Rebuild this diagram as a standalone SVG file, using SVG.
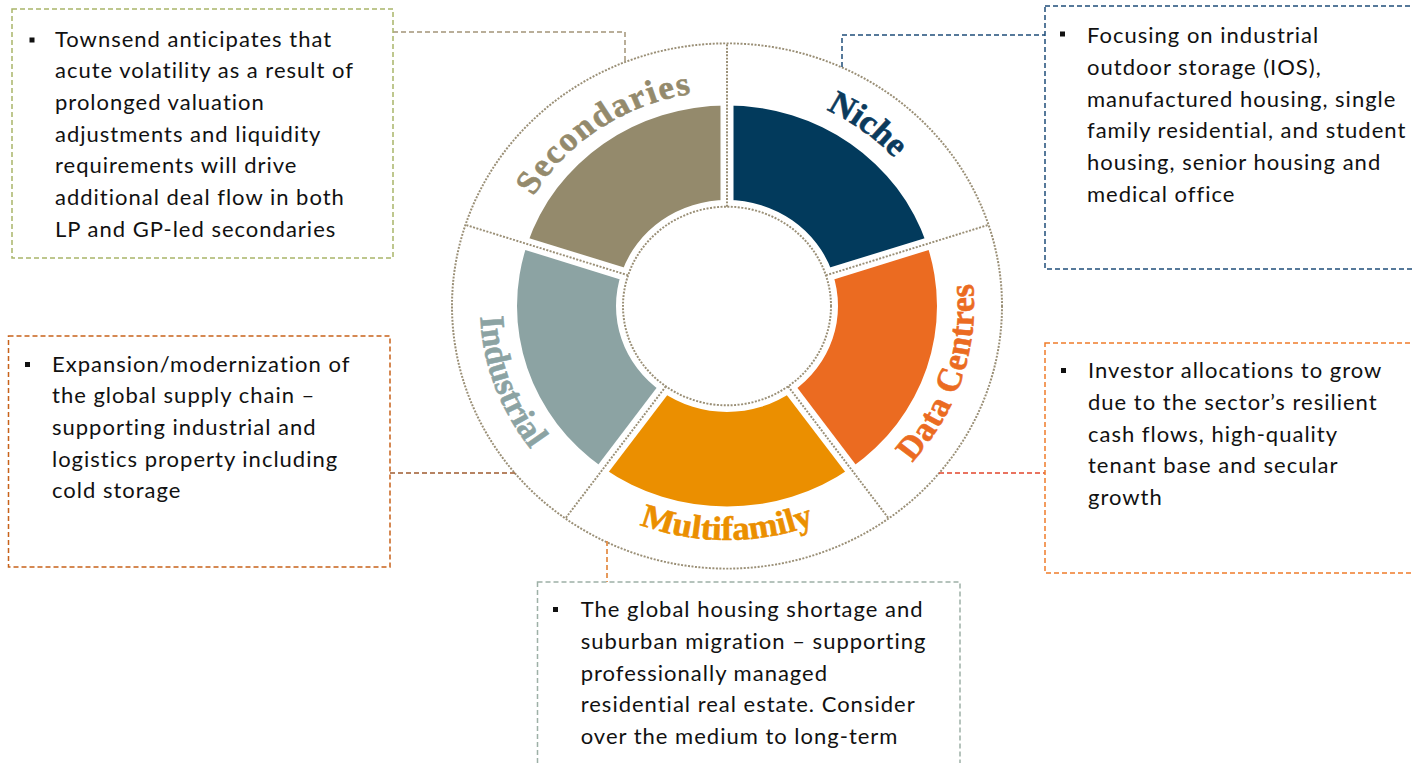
<svg xmlns="http://www.w3.org/2000/svg" width="1412" height="763" viewBox="0 0 1412 763">
  <defs>
    <style>
      .box { fill: none; stroke-width: 1.5; stroke-dasharray: 5 3; }
      .conn { fill: none; stroke-width: 1.5; stroke-dasharray: 5 3; }
      .dot { fill: none; stroke: #9A8F76; stroke-width: 2; stroke-dasharray: 2 1.5; }
      .gap { stroke: #ffffff; stroke-width: 13; }
      .body { font-family: Lato, "Liberation Sans", sans-serif; font-size: 22px; letter-spacing: 1px; fill: #111111; }
      .bullet { fill: #111111; }
      .lbl { font-family: "Liberation Serif", "DejaVu Serif", serif; font-weight: bold; font-size: 35px; stroke-width: 0.6; }
    </style>
    <!-- label baselines: upper arcs run clockwise, lower arcs counter-clockwise -->
    <path id="arc-secondaries" d="M -224.5 15.7 A 225 225 0 0 1 98.6 -202.2"/>
    <path id="arc-niche" d="M -90.9 -209.1 A 228 228 0 0 1 226.5 25.8"/>
    <path id="arc-datacentres" d="M 51.4 241.6 A 247 247 0 0 0 183.5 -165.3"/>
    <path id="arc-multifamily" d="M -212.2 122.5 A 245 245 0 0 0 212.2 122.5"/>
    <path id="arc-industrial" d="M -189.2 -158.8 A 247 247 0 0 0 -42.9 243.2"/>
  </defs>

  <rect width="1412" height="763" fill="#ffffff"/>

  <!-- sector wheel -->
  <g id="wheel" transform="translate(727 306) scale(1 0.955)">
    <g id="seg-niche">
      <path d="M 0 -210 A 210 210 0 0 1 199.72 -64.89 L 105.57 -34.30 A 111 111 0 0 0 0 -111 Z" fill="#023A5C"/>
      <text class="lbl" fill="#0B3A5C" stroke="#0B3A5C"><textPath href="#arc-niche" startOffset="50%" text-anchor="middle">Niche</textPath></text>
    </g>
    <g id="seg-datacentres">
      <path d="M 199.72 -64.89 A 210 210 0 0 1 123.44 169.89 L 65.24 89.80 A 111 111 0 0 0 105.57 -34.30 Z" fill="#EB6B21"/>
      <text class="lbl" fill="#EB6B21" stroke="#EB6B21" letter-spacing="0.5"><textPath href="#arc-datacentres" startOffset="50%" text-anchor="middle">Data Centres</textPath></text>
    </g>
    <g id="seg-multifamily">
      <path d="M 123.44 169.89 A 210 210 0 0 1 -123.44 169.89 L -65.24 89.80 A 111 111 0 0 0 65.24 89.80 Z" fill="#EB8F00"/>
      <text class="lbl" fill="#EB8F00" stroke="#EB8F00"><textPath href="#arc-multifamily" startOffset="50%" text-anchor="middle">Multifamily</textPath></text>
    </g>
    <g id="seg-industrial">
      <path d="M -123.44 169.89 A 210 210 0 0 1 -199.72 -64.89 L -105.57 -34.30 A 111 111 0 0 0 -65.24 89.80 Z" fill="#8CA3A3"/>
      <text class="lbl" fill="#8CA3A3" stroke="#8CA3A3"><textPath href="#arc-industrial" startOffset="50%" text-anchor="middle">Industrial</textPath></text>
    </g>
    <g id="seg-secondaries">
      <path d="M -199.72 -64.89 A 210 210 0 0 1 0 -210 L 0 -111 A 111 111 0 0 0 -105.57 -34.30 Z" fill="#948A6C"/>
      <text class="lbl" fill="#948A6C" stroke="#948A6C" font-size="36" letter-spacing="1.8"><textPath href="#arc-secondaries" startOffset="50%" text-anchor="middle">Secondaries</textPath></text>
    </g>

    <g id="ring-lines">
      <!-- white channels between sectors -->
      <line class="gap" x1="0" y1="-100" x2="0" y2="-216"/>
      <line class="gap" x1="95.1" y1="-30.9" x2="205.4" y2="-66.7"/>
      <line class="gap" x1="58.8" y1="80.9" x2="127.0" y2="174.7"/>
      <line class="gap" x1="-58.8" y1="80.9" x2="-127.0" y2="174.7"/>
      <line class="gap" x1="-95.1" y1="-30.9" x2="-205.4" y2="-66.7"/>
      <!-- dotted rims and spokes -->
      <circle class="dot" cx="0" cy="0" r="275"/>
      <circle class="dot" cx="0" cy="0" r="104"/>
      <line class="dot" x1="0" y1="-104" x2="0" y2="-275"/>
      <line class="dot" x1="98.91" y1="-32.14" x2="261.54" y2="-84.98"/>
      <line class="dot" x1="61.13" y1="84.14" x2="161.64" y2="222.48"/>
      <line class="dot" x1="-61.13" y1="84.14" x2="-161.64" y2="222.48"/>
      <line class="dot" x1="-98.91" y1="-32.14" x2="-261.54" y2="-84.98"/>
    </g>
  </g>

  <!-- leader lines from the wheel to the notes -->
  <g id="connectors">
    <polyline class="conn" stroke="#A39478" points="393,32 625,32 625,62"/>
    <polyline class="conn" stroke="#1F4E79" points="842,67 842,35 1045,35"/>
    <line class="conn" stroke="#9E5B2F" x1="390" y1="473" x2="517" y2="473"/>
    <line class="conn" stroke="#E2462C" x1="939" y1="473" x2="1045" y2="473"/>
    <line class="conn" stroke="#E07A26" x1="607" y1="541" x2="607" y2="582"/>
  </g>

  <g id="note-secondaries">
    <rect class="box" stroke="#A9B56A" x="12" y="9" width="381" height="249"/>
    <rect class="bullet" x="29.5" y="37.5" width="5" height="5"/>
    <text class="body">
      <tspan x="55" y="46.5">Townsend anticipates that</tspan>
      <tspan x="55" y="78.2">acute volatility as a result of</tspan>
      <tspan x="55" y="109.8">prolonged valuation</tspan>
      <tspan x="55" y="141.5">adjustments and liquidity</tspan>
      <tspan x="55" y="173.2">requirements will drive</tspan>
      <tspan x="55" y="204.8">additional deal flow in both</tspan>
      <tspan x="55" y="236.5">LP and GP-led secondaries</tspan>
    </text>
  </g>

  <g id="note-niche">
    <rect class="box" stroke="#1F4E79" x="1045" y="6" width="400" height="263"/>
    <rect class="bullet" x="1060" y="31.5" width="5" height="5"/>
    <text class="body">
      <tspan x="1087" y="43.3">Focusing on industrial</tspan>
      <tspan x="1087" y="75">outdoor storage (IOS),</tspan>
      <tspan x="1087" y="106.7">manufactured housing, single</tspan>
      <tspan x="1087" y="138.3">family residential, and student</tspan>
      <tspan x="1087" y="170">housing, senior housing and</tspan>
      <tspan x="1087" y="201.7">medical office</tspan>
    </text>
  </g>

  <g id="note-industrial">
    <rect class="box" stroke="#C8621A" x="8.5" y="336" width="381.5" height="231"/>
    <rect class="bullet" x="25" y="362" width="5" height="5"/>
    <text class="body">
      <tspan x="52" y="371.7">Expansion/modernization of</tspan>
      <tspan x="52" y="403.3">the global supply chain –</tspan>
      <tspan x="52" y="435">supporting industrial and</tspan>
      <tspan x="52" y="466.7">logistics property including</tspan>
      <tspan x="52" y="498.3">cold storage</tspan>
    </text>
  </g>

  <g id="note-datacentres">
    <rect class="box" stroke="#F07C2A" x="1045" y="343" width="400" height="230"/>
    <rect class="bullet" x="1061" y="368" width="5" height="5"/>
    <text class="body">
      <tspan x="1088" y="378.3">Investor allocations to grow</tspan>
      <tspan x="1088" y="410">due to the sector’s resilient</tspan>
      <tspan x="1088" y="441.7">cash flows, high-quality</tspan>
      <tspan x="1088" y="473.3">tenant base and secular</tspan>
      <tspan x="1088" y="505">growth</tspan>
    </text>
  </g>

  <g id="note-multifamily">
    <rect class="box" stroke="#9DB0A6" x="537.5" y="582" width="422.5" height="200"/>
    <rect class="bullet" x="553" y="607" width="5" height="5"/>
    <text class="body">
      <tspan x="580.7" y="617.3">The global housing shortage and</tspan>
      <tspan x="580.7" y="649">suburban migration – supporting</tspan>
      <tspan x="580.7" y="680.7">professionally managed</tspan>
      <tspan x="580.7" y="712.3">residential real estate. Consider</tspan>
      <tspan x="580.7" y="744">over the medium to long-term</tspan>
    </text>
  </g>
</svg>
